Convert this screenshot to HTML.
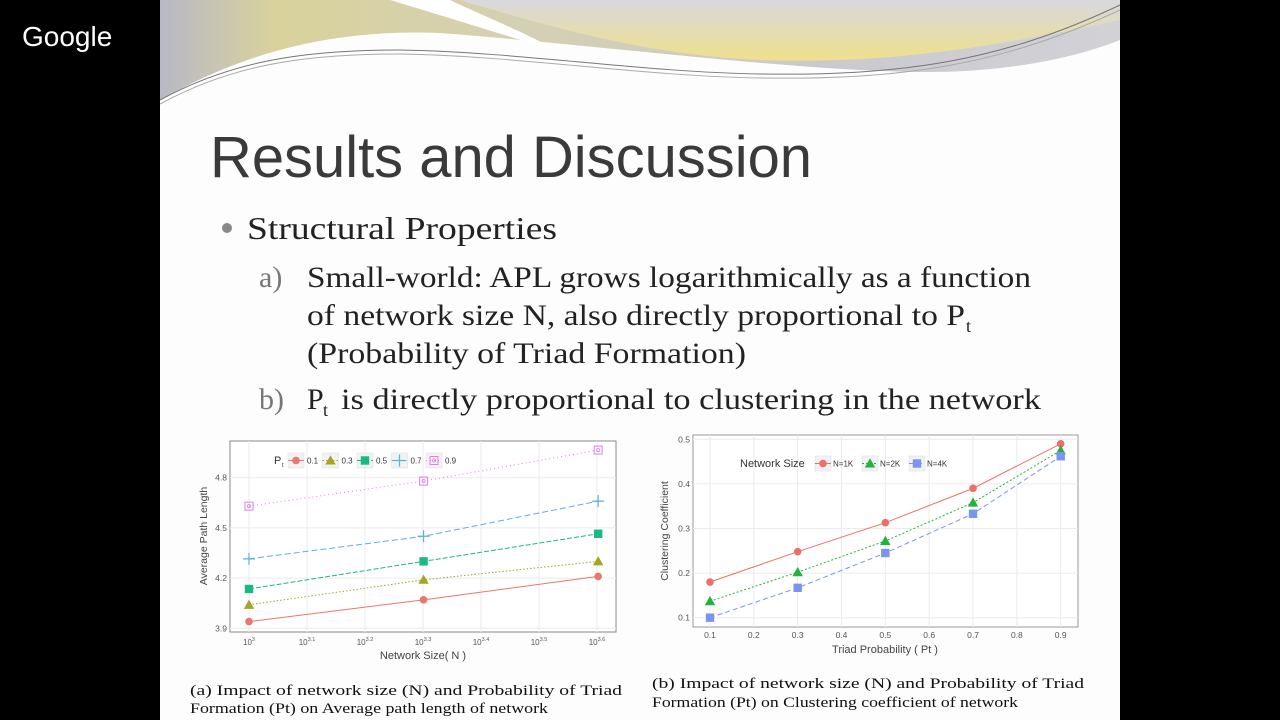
<!DOCTYPE html>
<html><head><meta charset="utf-8"><style>
html,body{margin:0;padding:0;background:#000;width:1280px;height:720px;overflow:hidden}
svg{display:block}
.serif{font-family:"Liberation Serif",serif}
.sans{font-family:"Liberation Sans",sans-serif}
</style></head><body>
<svg id="s" width="1280" height="720" viewBox="0 0 1280 720">
<defs>
<linearGradient id="g1" x1="0" y1="0" x2="1" y2="0"><stop offset="0" stop-color="#b8b8c6"/><stop offset="0.12" stop-color="#d9d29c"/><stop offset="0.4" stop-color="#d4d0b4"/><stop offset="0.7" stop-color="#c9c9cf"/><stop offset="1" stop-color="#d2d2d6"/></linearGradient>
<linearGradient id="g2" x1="0" y1="0" x2="0" y2="1"><stop offset="0" stop-color="#d8d8de"/><stop offset="1" stop-color="#efe08a"/></linearGradient>
</defs>
<rect x="160" y="0" width="960" height="720" fill="#fdfdfd"/>
<g>
<path d="M160,0 H1120 V40 C1070,60 1000,72 930,72 C800,72 600,45 440,33 C320,28 230,60 160,100 Z" fill="url(#g1)"/>
<path d="M460,0 C560,30 650,55 760,60 C880,64 980,50 1120,20 V0 Z" fill="url(#g2)"/>
<path d="M390,0 C450,18 520,40 560,52 C520,30 470,10 450,0 Z" fill="#fff"/>
<path d="M160,100 C230,62 300,50 400,50 C520,52 640,72 760,74 C900,76 1000,62 1120,5" fill="none" stroke="#777" stroke-width="1"/>
<path d="M160,104 C230,66 300,54 400,54 C520,56 640,76 760,78 C900,80 1000,66 1120,10" fill="none" stroke="#aaa" stroke-width="1"/>
</g>
<text x="22" y="46" class="sans" font-size="28" fill="#fff">Google</text>
<text x="210" y="177" class="sans" font-size="58" fill="#3a3a3a" textLength="602" lengthAdjust="spacingAndGlyphs">Results and Discussion</text>
<circle cx="227" cy="228" r="5" fill="#888"/>
<text x="247" y="239" class="serif" font-size="32" fill="#222" textLength="310" lengthAdjust="spacingAndGlyphs">Structural Properties</text>
<g class="serif" font-size="30" fill="#222">
<text x="259" y="287" fill="#777">a)</text>
<text x="307" y="287" textLength="724" lengthAdjust="spacingAndGlyphs">Small-world: APL grows logarithmically as a function</text>
<text x="307" y="325" textLength="658" lengthAdjust="spacingAndGlyphs">of network size N, also directly proportional to P</text>
<text x="966" y="332" font-size="18">t</text>
<text x="307" y="363" textLength="439" lengthAdjust="spacingAndGlyphs">(Probability of Triad Formation)</text>
<text x="259" y="409" fill="#777">b)</text>
<text x="307" y="409">P</text>
<text x="323" y="416" font-size="18">t</text>
<text x="341" y="409" textLength="700" lengthAdjust="spacingAndGlyphs">is directly proportional to clustering in the network</text>
</g>
<g id="c1"></g>
<g id="c2"></g>
<g class="serif" font-size="15" fill="#111">
<text x="190" y="695" textLength="432" lengthAdjust="spacingAndGlyphs">(a) Impact of network size (N) and Probability of Triad</text>
<text x="190" y="713" textLength="358" lengthAdjust="spacingAndGlyphs">Formation (Pt) on Average path length of network</text>
<text x="652" y="688" textLength="432" lengthAdjust="spacingAndGlyphs">(b) Impact of network size (N) and Probability of Triad</text>
<text x="652" y="707" textLength="366" lengthAdjust="spacingAndGlyphs">Formation (Pt) on Clustering coefficient of network</text>
</g>
</svg>
<script>
// Chart 1 data
const c1X = [3, 3.301, 3.602];
const c1Series = ["0.1","0.3","0.5","0.7","0.9"];
const c1s01 = [3.94, 4.07, 4.21];
const c1s03 = [4.04, 4.19, 4.30];
const c1s05 = [4.135, 4.30, 4.465];
const c1s07 = [4.315, 4.45, 4.66];
const c1s09 = [4.63, 4.78, 4.965];
const c1YTicks = [3.9, 4.2, 4.5, 4.8];
const c1XTicks = [3, 3.1, 3.2, 3.3, 3.4, 3.5, 3.6];
// Chart 2 data
const c2X = [0.1, 0.3, 0.5, 0.7, 0.9];
const c2Series = ["N=1K","N=2K","N=4K"];
const c2n1 = [0.18, 0.248, 0.313, 0.39, 0.49];
const c2n2 = [0.137, 0.202, 0.272, 0.358, 0.475];
const c2n4 = [0.10, 0.167, 0.245, 0.333, 0.462];
const c2YTicks = [0.1, 0.2, 0.3, 0.4, 0.5];
const c2XTicks = [0.1,0.2,0.3,0.4,0.5,0.6,0.7,0.8,0.9];

const NS="http://www.w3.org/2000/svg";
function mk(parent, tag, attrs, text){
  const e=document.createElementNS(NS,tag);
  for(const k in attrs) e.setAttribute(k,attrs[k]);
  if(text!==undefined) e.textContent=text;
  parent.appendChild(e); return e;
}
function marker(g, shape, x, y, col){
  let m;
  if(shape==="circle") m=mk(g,"circle",{cx:x,cy:y,r:3.8,fill:col});
  else if(shape==="tri") m=mk(g,"polygon",{points:`${x},${y-5.2} ${x-5.2},${y+4} ${x+5.2},${y+4}`,fill:col});
  else if(shape==="square") m=mk(g,"rect",{x:x-4.2,y:y-4.2,width:8.4,height:8.4,fill:col});
  else if(shape==="plus") m=mk(g,"path",{d:`M${x-6},${y}H${x+6}M${x},${y-6}V${y+6}`,stroke:col,"stroke-width":1.2,fill:"none"});
  else { m=mk(g,"g",{}); mk(m,"rect",{x:x-4,y:y-4,width:8,height:8,fill:"none",stroke:col,"stroke-width":1}); mk(m,"circle",{cx:x,cy:y,r:1.6,fill:"none",stroke:col,"stroke-width":0.8}); }
  return m;
}
// ---- Chart 1 ----
(function(){
  const g=document.getElementById("c1");
  const L=230,R=616,T=441,B=632;
  const xs=v=>249+(v-3)/0.6*348;
  const ys=v=>628.3-(v-3.9)/0.9*150.6;
  mk(g,"rect",{x:L,y:T,width:R-L,height:B-T,fill:"#fff",stroke:"#888","stroke-width":1});
  c1XTicks.forEach(t=>{const x=xs(t);mk(g,"line",{x1:x,y1:T,x2:x,y2:B,stroke:"#ebebeb"});
    const tx=mk(g,"text",{x:x,y:B+13,"font-size":8,"font-family":"Liberation Sans, sans-serif","text-anchor":"middle",fill:"#555"});
    
    
    mk(tx,"tspan",{},"10"); mk(tx,"tspan",{dy:-4,"font-size":5.5},t===3?"3":String(t));});
  c1YTicks.forEach(t=>{const y=ys(t);mk(g,"line",{x1:L,y1:y,x2:R,y2:y,stroke:"#ebebeb"});
    const tx=mk(g,"text",{x:L-3,y:y+3,"font-size":8.5,"font-family":"Liberation Sans, sans-serif","text-anchor":"end",fill:"#555"},t.toFixed(1));
    
    });
  const cfg=[[c1s01,"#e8776e","circle",""],[c1s03,"#a3a524","tri","1.5,2"],[c1s05,"#19b982","square","5,2"],[c1s07,"#5ab0e0","plus","6,3"],[c1s09,"#e27fe6","x","1,3"]];
  cfg.forEach((c,i)=>{
    const sg=mk(g,"g",{});
    
    
    mk(sg,"polyline",{points:c[0].map((v,j)=>xs(c1X[j])+","+ys(v)).join(" "),fill:"none",stroke:c[1],"stroke-width":1,"stroke-dasharray":c[3]});
    c[0].forEach((v,j)=>{const m=marker(sg,c[2],xs(c1X[j]),ys(v),c[1]);
      
      });
  });
  const lt=mk(g,"text",{x:274,y:464,"font-size":11,"font-family":"Liberation Sans, sans-serif",fill:"#333"},"P");
  
  
  mk(g,"text",{x:282,y:467,"font-size":6,"font-family":"Liberation Sans, sans-serif",fill:"#333"},"t");
  cfg.forEach((c,i)=>{const x=291+i*34.5,y=460.5;
    const lg=mk(g,"g",{});
    
    
    mk(lg,"rect",{x:x-3,y:y-7.5,width:16,height:15,fill:"#f2f2f2",stroke:"#ddd","stroke-width":0.5});
    mk(lg,"line",{x1:x-3,y1:y,x2:x+13,y2:y,stroke:c[1],"stroke-dasharray":c[3]});
    marker(lg,c[2],x+5,y,c[1]);
    mk(lg,"text",{x:x+16,y:y+3,"font-size":8,"font-family":"Liberation Sans, sans-serif",fill:"#333"},c1Series[i]);});
  const xt=mk(g,"text",{x:423,y:659,"font-size":11,"font-family":"Liberation Sans, sans-serif","text-anchor":"middle",fill:"#444"},"Network Size( N )");
  
  
  const yt=mk(g,"text",{x:0,y:0,"font-size":10.5,"font-family":"Liberation Sans, sans-serif","text-anchor":"middle",fill:"#444",transform:"translate(207,536) rotate(-90)"},"Average Path Length");
  
  
})();
// ---- Chart 2 ----
(function(){
  const g=document.getElementById("c2");
  const L=693,R=1078,T=435,B=627;
  const xs=v=>710+(v-0.1)/0.8*350.7;
  const ys=v=>617.7-(v-0.1)/0.4*178.4;
  mk(g,"rect",{x:L,y:T,width:R-L,height:B-T,fill:"#fff",stroke:"#999","stroke-width":1});
  c2XTicks.forEach(t=>{const x=xs(t);mk(g,"line",{x1:x,y1:T,x2:x,y2:B,stroke:"#ebebeb"});
    const tx=mk(g,"text",{x:x,y:B+11,"font-size":8.5,"font-family":"Liberation Sans, sans-serif","text-anchor":"middle",fill:"#555"},t.toFixed(1));
    
    });
  c2YTicks.forEach(t=>{const y=ys(t);mk(g,"line",{x1:L,y1:y,x2:R,y2:y,stroke:"#ebebeb"});
    const tx=mk(g,"text",{x:L-3,y:y+3,"font-size":8.5,"font-family":"Liberation Sans, sans-serif","text-anchor":"end",fill:"#555"},t.toFixed(1));
    
    });
  const cfg=[[c2n1,"#ee6f6a","circle",""],[c2n2,"#22b33a","tri","2,2"],[c2n4,"#7b94ee","square","5,3"]];
  cfg.forEach((c,i)=>{
    const sg=mk(g,"g",{});
    
    
    mk(sg,"polyline",{points:c[0].map((v,j)=>xs(c2X[j])+","+ys(v)).join(" "),fill:"none",stroke:c[1],"stroke-width":1,"stroke-dasharray":c[3]});
    c[0].forEach((v,j)=>{const m=marker(sg,c[2],xs(c2X[j]),ys(v),c[1]);
      
      });
  });
  const lt=mk(g,"text",{x:740,y:467,"font-size":11,"font-family":"Liberation Sans, sans-serif",fill:"#333"},"Network Size");
  
  
  cfg.forEach((c,i)=>{const x=818+i*47,y=463.5;
    const lg=mk(g,"g",{});
    
    
    mk(lg,"rect",{x:x-3,y:y-7.5,width:16,height:15,fill:"#f2f2f2",stroke:"#ddd","stroke-width":0.5});
    mk(lg,"line",{x1:x-3,y1:y,x2:x+13,y2:y,stroke:c[1],"stroke-dasharray":c[3]});
    marker(lg,c[2],x+5,y,c[1]);
    mk(lg,"text",{x:x+15,y:y+3,"font-size":8,"font-family":"Liberation Sans, sans-serif",fill:"#333"},c2Series[i]);});
  const xt=mk(g,"text",{x:885,y:653,"font-size":11,"font-family":"Liberation Sans, sans-serif","text-anchor":"middle",fill:"#444"},"Triad Probability ( Pt )");
  
  
  const yt=mk(g,"text",{x:0,y:0,"font-size":10.5,"font-family":"Liberation Sans, sans-serif","text-anchor":"middle",fill:"#444",transform:"translate(668,531) rotate(-90)"},"Clustering Coefficient");
  
  
})();
</script>
</body></html>
